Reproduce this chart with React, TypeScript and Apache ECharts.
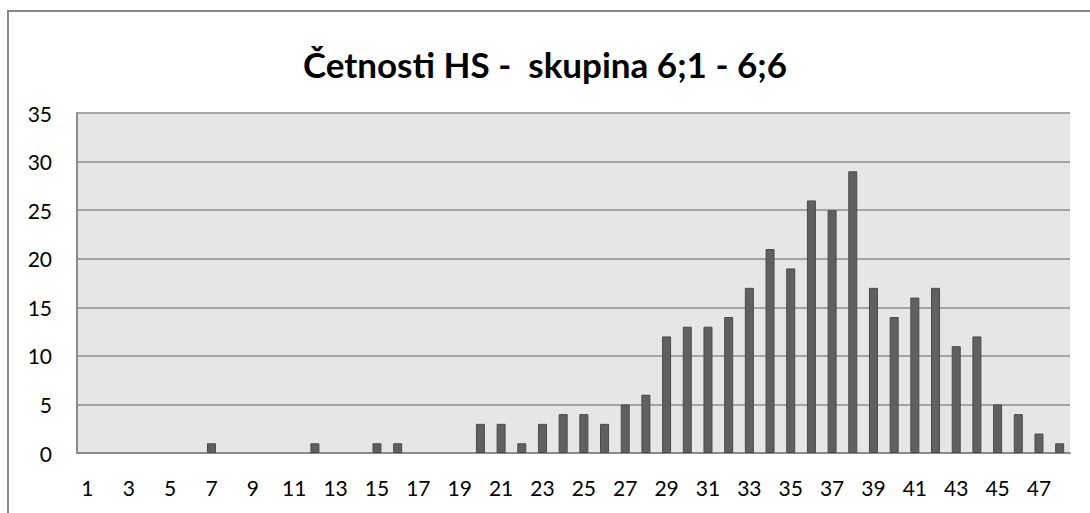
import React, { useEffect, useRef } from "react";
import * as echarts from "echarts";

const title = "Četnosti HS -  skupina 6;1 - 6;6";
const categories: string[] = [];
for (let i = 1; i <= 48; i++) categories.push(String(i));
const values = [
  0, 0, 0, 0, 0, 0, 1, 0, 0, 0,
  0, 1, 0, 0, 1, 1, 0, 0, 0, 3,
  3, 1, 3, 4, 4, 3, 5, 6, 12, 13,
  13, 14, 17, 21, 19, 26, 25, 29, 17, 14,
  16, 17, 11, 12, 5, 4, 2, 1,
];
const yMax = 35;
const yInterval = 5;

export default function App() {
  const ref = useRef<HTMLDivElement>(null);
  useEffect(() => {
    document.body.style.margin = "0";
    const chart = echarts.init(ref.current!, null, { renderer: "svg" });
    const font = "Lato, 'Open Sans', sans-serif";
    chart.setOption({
      animation: false,
      backgroundColor: "#ffffff",
      title: {
        text: title,
        left: "center",
        top: 41,
        textStyle: { fontFamily: font, fontWeight: "bold", fontSize: 35, color: "#000" },
      },
      graphic: [
        {
          type: "rect",
          shape: { x: 8, y: 11, width: 1200, height: 600 },
          style: { fill: "none", stroke: "#878787", lineWidth: 2 },
          silent: true,
          z: 0,
        },
      ],
      grid: {
        left: 77,
        top: 113,
        width: 993,
        height: 340,
        show: true,
        backgroundColor: "#e6e6e6",
        borderWidth: 0,
      },
      xAxis: {
        type: "category",
        data: categories,
        axisLine: { show: true, lineStyle: { color: "#8a8a8a", width: 2 } },
        axisTick: { show: false },
        axisLabel: { interval: 1, margin: 24, fontFamily: font, fontSize: 21, color: "#000" },
      },
      yAxis: {
        type: "value",
        min: 0,
        max: yMax,
        interval: yInterval,
        axisLine: { show: true, lineStyle: { color: "#8a8a8a", width: 2 } },
        axisTick: { show: false },
        splitLine: { show: true, lineStyle: { color: "#8e8e8e", width: 1.5 } },
        axisLabel: { margin: 25, fontFamily: font, fontSize: 21, color: "#000" },
      },
      series: [
        {
          type: "bar",
          data: values.map((v) => (v === 0 ? null : v)),
          barWidth: 9,
          itemStyle: { color: "#606060", borderColor: "#4a4a4a", borderWidth: 1 },
        },
      ],
    });
    return () => chart.dispose();
  }, []);
  return <div ref={ref} style={{ width: 1090, height: 513 }} />;
}
